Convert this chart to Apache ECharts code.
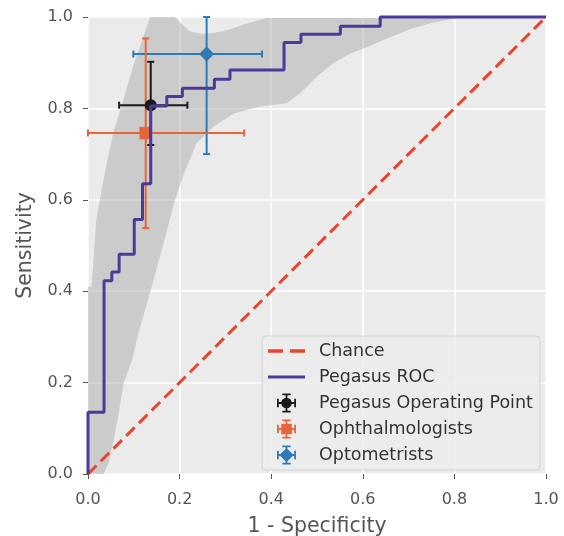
<!DOCTYPE html>
<html>
<head>
<meta charset="utf-8">
<script src="https://cdn.jsdelivr.net/npm/echarts@6/dist/echarts.min.js"></script>
<style>
  html, body { margin: 0; padding: 0; background: #fff; }
  #chart { width: 564px; height: 536px; }
</style>
</head>
<body>
<div id="chart"></div>
<script>
// ROC curve corners (1 - specificity, sensitivity)
const rocFpr = [0, 0, 0.035, 0.035, 0.052, 0.052, 0.068, 0.068, 0.101, 0.101, 0.119, 0.119, 0.137, 0.137,
  0.172, 0.172, 0.206, 0.206, 0.276, 0.276, 0.31, 0.31, 0.428, 0.428, 0.465, 0.465, 0.551, 0.551, 0.638, 0.638, 1.0];
const rocTpr = [0, 0.135, 0.135, 0.423, 0.423, 0.442, 0.442, 0.481, 0.481, 0.557, 0.557, 0.635, 0.635, 0.805,
  0.805, 0.826, 0.826, 0.844, 0.844, 0.864, 0.864, 0.884, 0.884, 0.944, 0.944, 0.962, 0.962, 0.98, 0.98, 1.0, 1.0];

// confidence band edges
const bandUpperX = [0, 0.008, 0.018, 0.024, 0.041, 0.055, 0.077, 0.098, 0.115, 0.128, 0.136, 0.19, 0.205, 0.223,
  0.25, 0.273, 0.303, 0.347, 0.39, 1.0];
const bandUpperY = [0.41, 0.41, 0.555, 0.59, 0.68, 0.746, 0.818, 0.89, 0.94, 0.979, 1.0, 1.0, 0.984, 0.968,
  0.963, 0.965, 0.971, 0.986, 0.998, 1.0];
const bandLowerX = [0, 0.034, 0.045, 0.056, 0.067, 0.078, 0.096, 0.112, 0.135, 0.165, 0.19, 0.21, 0.237, 0.274,
  0.318, 0.376, 0.434, 0.463, 0.5, 0.535, 0.573, 0.609, 0.653, 0.704, 0.754, 0.798, 0.83, 1.0];
const bandLowerY = [0, 0, 0.024, 0.074, 0.133, 0.199, 0.249, 0.315, 0.395, 0.505, 0.6, 0.658, 0.724, 0.76,
  0.789, 0.804, 0.811, 0.833, 0.87, 0.899, 0.92, 0.934, 0.953, 0.974, 0.988, 0.996, 1.0, 1.0];

const chanceX = [0, 1];
const chanceY = [0, 1];

// operating points: [x, y, xLow, xHigh, yLow, yHigh]
const pegasusPoint = [0.137, 0.807, 0.068, 0.217, 0.72, 0.902];
const ophthalmologists = [0.126, 0.746, 0.0, 0.341, 0.538, 0.953];
const optometrists = [0.259, 0.919, 0.099, 0.38, 0.70, 1.0];

const font = 'DejaVu Sans';

// legend icons
const iconDash = 'path://M0,0h13v3h-13Z M19,0h13v3h-13Z';
const iconLine = 'path://M0,0h37v3h-37Z';
const bars = 'M7.25,0h1.5v16h-1.5Z M0,7.25h16v1.5h-16Z M4.5,0h7v1.5h-7Z M4.5,14.5h7v1.5h-7Z M0,4.5h1.5v7h-1.5Z M14.5,4.5h1.5v7h-1.5Z ';
const iconCircle = 'path://' + bars + 'M12.5,8A4.5,4.5 0 1 1 3.5,8A4.5,4.5 0 1 1 12.5,8Z';
const iconSquare = 'path://' + bars + 'M3.5,3.5h9v9h-9Z';
const iconDiamond = 'path://' + bars + 'M8,2L14,8L8,14L2,8Z';

function zip(a, b) {
    return a.map((v, i) => [v, b[i]]);
}

// marker plus x/y error bars with caps
function errorBar(marker, size) {
    return function (params, api) {
        const x = api.value(0), y = api.value(1);
        const c = api.coord([x, y]);
        const l = api.coord([api.value(2), y]);
        const r = api.coord([api.value(3), y]);
        const b = api.coord([x, api.value(4)]);
        const t = api.coord([x, api.value(5)]);
        const color = api.visual('color');
        const st = { stroke: color, lineWidth: 2 };
        const cap = 3.5;
        const seg = (x1, y1, x2, y2) => ({ type: 'line', shape: { x1, y1, x2, y2 }, style: st });
        const children = [
            seg(l[0], l[1], r[0], r[1]),
            seg(b[0], b[1], t[0], t[1]),
            seg(l[0], l[1] - cap, l[0], l[1] + cap),
            seg(r[0], r[1] - cap, r[0], r[1] + cap),
            seg(b[0] - cap, b[1], b[0] + cap, b[1]),
            seg(t[0] - cap, t[1], t[0] + cap, t[1])
        ];
        const h = size / 2;
        if (marker === 'circle') {
            children.push({ type: 'circle', shape: { cx: c[0], cy: c[1], r: h }, style: { fill: color } });
        } else if (marker === 'square') {
            children.push({ type: 'rect', shape: { x: c[0] - h, y: c[1] - h, width: size, height: size }, style: { fill: color } });
        } else {
            children.push({
                type: 'polygon',
                shape: { points: [[c[0], c[1] - h], [c[0] + h, c[1]], [c[0], c[1] + h], [c[0] - h, c[1]]] },
                style: { fill: color }
            });
        }
        return { type: 'group', children };
    };
}

const chart = echarts.init(document.getElementById('chart'));

const axisCommon = {
    type: 'value',
    min: 0,
    max: 1,
    interval: 0.2,
    axisLine: { show: false },
    axisTick: { show: true, length: 5, lineStyle: { color: '#555', width: 1 } },
    splitLine: { show: true, lineStyle: { color: '#fff', width: 1.5 } },
    nameLocation: 'middle',
    nameTextStyle: { fontFamily: font, fontSize: 20.5, color: '#555' }
};

const labelStyle = (margin) => ({
    fontFamily: font, fontSize: 16, color: '#555', margin: margin,
    formatter: v => v.toFixed(1)
});

const option = {
    animation: false,
    backgroundColor: '#fff',
    grid: {
        left: 88, right: 18, top: 17, bottom: 62,
        outerBoundsMode: 'none',
        containLabel: false,
        show: true, backgroundColor: '#ebebeb', borderWidth: 0
    },
    xAxis: Object.assign({}, axisCommon, { name: '1 - Specificity', nameGap: 42, axisLabel: labelStyle(18) }),
    yAxis: Object.assign({}, axisCommon, { name: 'Sensitivity', nameGap: 51, axisLabel: labelStyle(15) }),
    legend: {
        orient: 'vertical',
        left: 262,
        top: 336,
        padding: [5, 7, 5, 6],
        itemWidth: 37,
        itemHeight: 19,
        itemGap: 6,
        selectedMode: false,
        backgroundColor: 'rgba(236,236,236,0.9)',
        borderColor: '#d2d2d2',
        borderWidth: 1,
        borderRadius: 4,
        textStyle: { fontFamily: font, fontSize: 17.5, color: '#333', lineHeight: 20, padding: [0, 0, 0, 9] },
        data: [
            { name: 'Chance', icon: iconDash },
            { name: 'Pegasus ROC', icon: iconLine },
            { name: 'Pegasus Operating Point', icon: iconCircle },
            { name: 'Ophthalmologists', icon: iconSquare },
            { name: 'Optometrists', icon: iconDiamond }
        ]
    },
    series: [
        {
            name: 'band',
            type: 'custom',
            silent: true,
            data: [[0, 0]],
            renderItem: function (params, api) {
                const up = zip(bandUpperX, bandUpperY).map(p => api.coord(p));
                const low = zip(bandLowerX, bandLowerY).map(p => api.coord(p)).reverse();
                return {
                    type: 'polygon',
                    shape: { points: up.concat(low) },
                    style: { fill: 'rgba(128,128,128,0.3)' }
                };
            }
        },
        {
            name: 'Chance',
            type: 'line',
            data: zip(chanceX, chanceY),
            symbol: 'none',
            silent: true,
            clip: false,
            color: '#e8452e',
            lineStyle: { color: '#e8452e', width: 3, type: [12, 6] }
        },
        {
            name: 'Pegasus ROC',
            type: 'line',
            data: zip(rocFpr, rocTpr),
            symbol: 'none',
            silent: true,
            clip: false,
            color: '#4b3a9a',
            lineStyle: { color: '#4b3a9a', width: 3 }
        },
        {
            name: 'Optometrists',
            type: 'custom',
            silent: true,
            clip: false,
            itemStyle: { color: '#2c7bb6' },
            data: [optometrists],
            renderItem: errorBar('diamond', 15)
        },
        {
            name: 'Ophthalmologists',
            type: 'custom',
            silent: true,
            clip: false,
            itemStyle: { color: '#e8643a' },
            data: [ophthalmologists],
            renderItem: errorBar('square', 12.5)
        },
        {
            name: 'Pegasus Operating Point',
            type: 'custom',
            silent: true,
            clip: false,
            itemStyle: { color: '#1a1a1a' },
            data: [pegasusPoint],
            renderItem: errorBar('circle', 12)
        }
    ]
};

chart.setOption(option);
</script>
</body>
</html>
